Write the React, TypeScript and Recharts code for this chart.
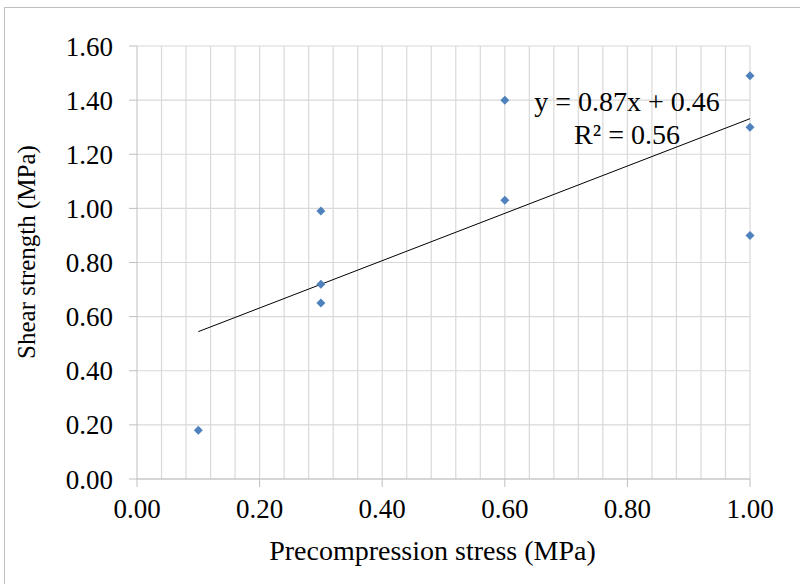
import React from 'react';
import {
  ScatterChart,
  Scatter,
  XAxis,
  YAxis,
  CartesianGrid,
  ReferenceLine,
  Label,
} from 'recharts';

const stress = [0.1, 0.3, 0.3, 0.3, 0.6, 0.6, 1.0, 1.0, 1.0];
const shear = [0.18, 0.99, 0.72, 0.65, 1.4, 1.03, 1.49, 1.3, 0.9];
const xTicks = [0, 0.2, 0.4, 0.6, 0.8, 1.0];
const yTicks = [0, 0.2, 0.4, 0.6, 0.8, 1.0, 1.2, 1.4, 1.6];
const xMinor = [0.04, 0.08, 0.12, 0.16, 0.24, 0.28, 0.32, 0.36, 0.44, 0.48, 0.52, 0.56, 0.64, 0.68, 0.72, 0.76, 0.84, 0.88, 0.92, 0.96];
const equationText = 'y = 0.87x + 0.46';
const r2Text = 'R² = 0.56';
const xTitle = 'Precompression stress (MPa)';
const yTitle = 'Shear strength (MPa)';

const points = stress.map((x, i) => ({ x, y: shear[i] }));

// least-squares trendline over the measured points
const n = stress.length;
const mx = stress.reduce((a, b) => a + b, 0) / n;
const my = shear.reduce((a, b) => a + b, 0) / n;
const slope =
  stress.reduce((s, x, i) => s + (x - mx) * (shear[i] - my), 0) /
  stress.reduce((s, x) => s + (x - mx) * (x - mx), 0);
const intercept = my - slope * mx;
const xMin = Math.min(...stress);
const xMax = Math.max(...stress);

const FONT = '"Liberation Serif", "Times New Roman", serif';
const GRID = '#d9d9d9';
const AXIS = '#bfbfbf';

const Diamond = (props: any) => {
  const { cx, cy } = props;
  const r = 4.5;
  return (
    <polygon
      points={`${cx},${cy - r} ${cx + r},${cy} ${cx},${cy + r} ${cx - r},${cy}`}
      fill="#4f81bd"
    />
  );
};

const renderXTick = (props: any) => {
  const { x, y, payload } = props;
  return (
    <text key={`xt-${payload.value}`} x={x} y={y + 31} textAnchor="middle" fontFamily={FONT} fontSize={27} fill="#000">
      {Number(payload.value).toFixed(2)}
    </text>
  );
};

const renderYTick = (props: any) => {
  const { x, y, payload } = props;
  return (
    <text key={`yt-${payload.value}`} x={x} y={y + 9.5} textAnchor="end" fontFamily={FONT} fontSize={27} fill="#000">
      {Number(payload.value).toFixed(2)}
    </text>
  );
};

export default function App() {
  return (
    <div style={{ position: 'fixed', left: 0, top: 0, width: 800, height: 584, overflow: 'hidden', background: '#fff' }}>
      <ScatterChart
        width={800}
        height={584}
        margin={{ top: 46, right: 50, left: 77, bottom: 45 }}
        style={{ position: 'absolute', left: 0, top: 0 }}
      >
        <CartesianGrid stroke={GRID} strokeWidth={1.2} vertical={false} />
        {xMinor.map((v) => (
          <ReferenceLine key={`m-${v}`} x={v} stroke={GRID} strokeWidth={1.2} />
        ))}
        {xTicks.slice(1).map((v) => (
          <ReferenceLine key={`M-${v}`} x={v} stroke={GRID} strokeWidth={1.2} />
        ))}
        <XAxis
          type="number"
          dataKey="x"
          domain={[0, 1]}
          ticks={xTicks}
          stroke={AXIS}
          tickSize={8}
          tickMargin={0}
          height={60}
          tick={renderXTick}
        >
          <Label
            content={(p: any) => (
              <text
                x={p.viewBox.x + p.viewBox.width / 2 - 11}
                y={560}
                textAnchor="middle"
                fontFamily={FONT}
                fontSize={28}
                fill="#000"
              >
                {xTitle}
              </text>
            )}
          />
        </XAxis>
        <YAxis
          type="number"
          dataKey="y"
          domain={[0, 1.6]}
          ticks={yTicks}
          stroke={AXIS}
          tickSize={8}
          tickMargin={16}
          width={60}
          tick={renderYTick}
        >
          <Label
            content={() => (
              <text
                x={0}
                y={0}
                transform="translate(35 252) rotate(-90)"
                textAnchor="middle"
                fontFamily={FONT}
                fontSize={25}
                fill="#000"
              >
                {yTitle}
              </text>
            )}
          />
        </YAxis>
        <ReferenceLine
          segment={[
            { x: xMin, y: intercept + slope * xMin },
            { x: xMax, y: intercept + slope * xMax },
          ]}
          stroke="#000"
          strokeWidth={1}
        />
        <Scatter data={points} shape={<Diamond />} isAnimationActive={false} />
      </ScatterChart>
      <div
        style={{
          position: 'absolute',
          left: 527,
          top: 85,
          width: 200,
          textAlign: 'center',
          fontFamily: FONT,
          fontSize: 28,
          lineHeight: '33px',
          color: '#000',
          whiteSpace: 'nowrap',
        }}
      >
        <div>{equationText}</div>
        <div>{r2Text}</div>
      </div>
      <div
        style={{
          position: 'absolute',
          left: 4,
          top: 7,
          width: 800,
          height: 600,
          boxSizing: 'border-box',
          borderTop: '1px solid #bfbfbf',
          borderLeft: '1px solid #bfbfbf',
          pointerEvents: 'none',
          zIndex: 10,
        }}
      />
    </div>
  );
}
